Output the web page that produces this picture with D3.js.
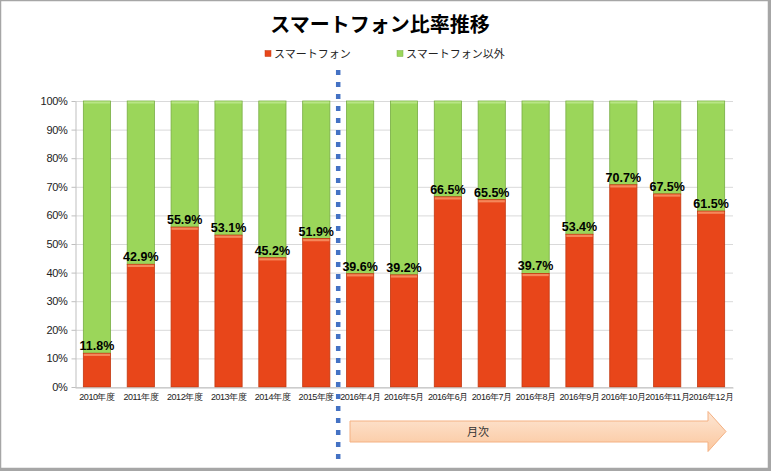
<!DOCTYPE html>
<html><head><meta charset="utf-8">
<script src="https://cdn.jsdelivr.net/npm/d3@7"></script>
<style>
body{margin:0;background:#fff;}
svg{display:block;font-family:"Noto Sans CJK JP","Noto Sans",sans-serif;}
</style></head>
<body>
<svg id="c" width="771" height="471"></svg>
<script>
const categories = ["2010年度","2011年度","2012年度","2013年度","2014年度","2015年度","2016年4月","2016年5月","2016年6月","2016年7月","2016年8月","2016年9月","2016年10月","2016年11月","2016年12月"];
const smartphone = [11.8,42.9,55.9,53.1,45.2,51.9,39.6,39.2,66.5,65.5,39.7,53.4,70.7,67.5,61.5];
const other = smartphone.map(v => +(100 - v).toFixed(1));
const yTicks = [0,10,20,30,40,50,60,70,80,90,100];
const seriesNames = ["スマートフォン","スマートフォン以外"];
const colors = {red:"#e8461a", redTop:"#f5875a", redEdge:"#c23a12", green:"#9bd65a", greenEdge:"#78ad44", greenTop:"#b8e585"};

const svg = d3.select("#c");
const W = 771, H = 471;
const m = {left:75, right:38, top:101, bottom:84};
const x = d3.scaleBand().domain(categories).range([m.left, W - m.right]).paddingInner(0.38).paddingOuter(0.19);
const y = d3.scaleLinear().domain([0,100]).range([H - m.bottom, m.top]);

const defs = svg.append("defs");
const ag = defs.append("linearGradient").attr("id","arrowG").attr("x1",0).attr("y1",0).attr("x2",0).attr("y2",1);
ag.append("stop").attr("offset","0%").attr("stop-color","#fde6d4");
ag.append("stop").attr("offset","100%").attr("stop-color","#fbc79e");

// border
svg.append("rect").attr("x",0.5).attr("y",0.5).attr("width",W-3).attr("height",H-3)
  .attr("fill","none").attr("stroke","#a6a6a6").attr("stroke-width",1.5);
svg.append("line").attr("x1",W-1.5).attr("x2",W-1.5).attr("y1",0).attr("y2",H).attr("stroke","#a6a6a6").attr("stroke-width",3);
svg.append("line").attr("x1",0).attr("x2",W).attr("y1",H-1.5).attr("y2",H-1.5).attr("stroke","#a6a6a6").attr("stroke-width",3);

// title
svg.append("text").attr("x",380).attr("y",32).attr("text-anchor","middle")
  .attr("font-size",20).attr("font-weight","bold").attr("fill","#000").text("スマートフォン比率推移");

// legend
const legX = [265, 397];
seriesNames.forEach((n,i)=>{
  svg.append("rect").attr("x",legX[i]).attr("y",50.5).attr("width",6).attr("height",6)
    .attr("fill", i===0?colors.red:colors.green).attr("stroke", i===0?colors.redEdge:colors.greenEdge).attr("stroke-width",0.5);
  svg.append("text").attr("x",legX[i]+9).attr("y",58).attr("font-size",11).attr("fill","#222").text(n);
});

// grid
svg.append("g").selectAll("line").data(yTicks).join("line")
  .attr("x1",m.left).attr("x2",W-m.right).attr("y1",d=>y(d)+0.5).attr("y2",d=>y(d)+0.5)
  .attr("stroke","#d9d9d9").attr("stroke-width",1);

// y axis
const ya = svg.append("g").attr("transform",`translate(${m.left+0.5},0)`)
  .call(d3.axisLeft(y).tickValues(yTicks).tickFormat(d=>d+"%").tickSize(4).tickSizeOuter(0));
ya.select(".domain").attr("stroke","#bfbfbf");
ya.selectAll(".tick line").attr("stroke","#bfbfbf");
ya.selectAll(".tick text").attr("font-size",11).attr("fill","#222").attr("font-family","'Liberation Sans','Noto Sans',sans-serif").attr("x",-8).attr("letter-spacing","-0.3px");

// bars
const g = svg.append("g");
const bw = x.bandwidth();
categories.forEach((c,i)=>{
  const v = smartphone[i];
  const x0 = x(c);
  g.append("rect").attr("x",x0).attr("y",y(100)).attr("width",bw).attr("height",y(v)-y(100))
    .attr("fill",colors.green).attr("stroke",colors.greenEdge).attr("stroke-width",0.8);
  g.append("rect").attr("x",x0+0.5).attr("y",y(100)+0.5).attr("width",bw-1).attr("height",2).attr("fill",colors.greenTop);
  g.append("rect").attr("x",x0).attr("y",y(v)).attr("width",bw).attr("height",y(0)-y(v))
    .attr("fill",colors.red).attr("stroke",colors.redEdge).attr("stroke-width",0.8);
  g.append("rect").attr("x",x0+0.5).attr("y",y(v)+0.5).attr("width",bw-1).attr("height",2.2).attr("fill",colors.redTop);
});

// x axis
const xa = svg.append("g").attr("transform",`translate(0,${y(0)+0.5})`)
  .call(d3.axisBottom(x).tickSize(0).tickSizeOuter(0));
xa.select(".domain").attr("stroke","#bfbfbf");
xa.selectAll(".tick text").attr("font-size",9).attr("fill","#222").attr("dy","1.0em")
  .attr("letter-spacing","-0.45px");

// data labels
g.selectAll("text.lbl").data(categories).join("text").attr("class","lbl")
  .attr("x",d=>x(d)+bw/2).attr("y",(d,i)=>y(smartphone[i])-3)
  .attr("text-anchor","middle").attr("font-size",12.5).attr("font-weight","bold")
  .attr("font-family","'Liberation Sans','Noto Sans',sans-serif").attr("fill","#000")
  .text((d,i)=>smartphone[i].toFixed(1)+"%");

// dashed divider between 2015年度 and 2016年4月
const divX = (x("2015年度") + bw + x("2016年4月"))/2;
svg.append("line").attr("x1",divX).attr("x2",divX).attr("y1",70).attr("y2",464)
  .attr("stroke","#4472c4").attr("stroke-width",4.5).attr("stroke-dasharray","5,7");

// arrow
const ax0 = 350, ax1 = 726, ahx = 708, ayc = 431.5;
const ap = `M${ax0},${ayc-10.5} L${ahx},${ayc-10.5} L${ahx},${ayc-20} L${ax1},${ayc} L${ahx},${ayc+20} L${ahx},${ayc+10.5} L${ax0},${ayc+10.5} Z`;
svg.append("path").attr("d",ap).attr("fill","url(#arrowG)").attr("stroke","#f4b183").attr("stroke-width",1);
svg.append("text").attr("x",478).attr("y",436).attr("text-anchor","middle").attr("font-size",11).attr("fill","#333").text("月次");
</script>
</body></html>
